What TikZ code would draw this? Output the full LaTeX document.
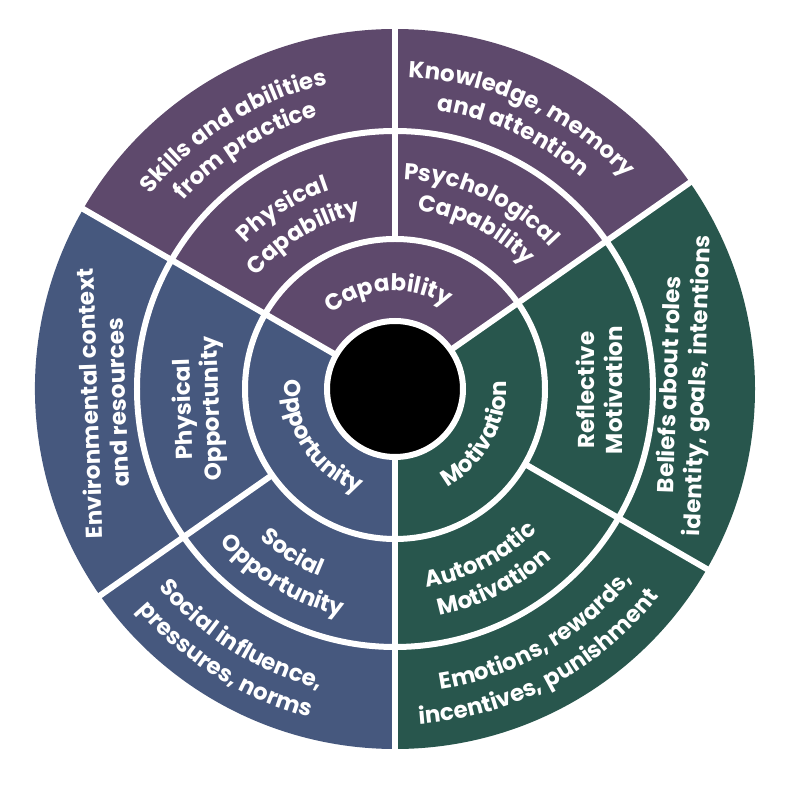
\documentclass[tikz,border=0pt]{standalone}
\usepackage{fontspec}
\setmainfont{Poppins}
\usetikzlibrary{decorations.text}
\definecolor{capcol}{HTML}{5E496C}
\definecolor{oppcol}{HTML}{46587E}
\definecolor{motcol}{HTML}{28564D}
\newcommand{\ringfont}{\bfseries\fontsize{23}{28}\selectfont}
% curved labels: centre angle, baseline radius, text
\newcommand{\cwlabel}[3]{\path[decorate, decoration={text along path, text align=center, text color=white, text={|\ringfont|#3}}] (#1+50:#2) arc[start angle=#1+50, end angle=#1-50, radius=#2];}
\newcommand{\ccwlabel}[3]{\path[decorate, decoration={text along path, text align=center, text color=white, text={|\ringfont|#3}}] (#1-50:#2) arc[start angle=#1-50, end angle=#1+50, radius=#2];}

\begin{document}
\begin{tikzpicture}[x=1pt, y=1pt]
  \tikzset{gap/.style={white, line width=6pt},
    lbl/.style={text=white, font=\ringfont, align=center, inner sep=0pt}}
  \useasboundingbox (-395,-402) rectangle (396,389);
  \fill[white] (-395,-402) rectangle (396,389);
  % the three sectors
  \fill[capcol] (0,0) -- (35:360) arc[start angle=35, end angle=150, radius=360] -- cycle;
  \fill[oppcol] (0,0) -- (150:360) arc[start angle=150, end angle=270, radius=360] -- cycle;
  \fill[motcol] (0,0) -- (270:360) arc[start angle=270, end angle=395, radius=360] -- cycle;
  % ring borders and spokes
  \draw[gap] (0,0) circle[radius=150];
  \draw[gap] (0,0) circle[radius=258];
  \foreach \a in {35,150,270} \draw[gap] (\a:65) -- (\a:362);
  \foreach \a in {90,215,330} \draw[gap] (\a:150) -- (\a:362);
  % hub
  \draw[gap, fill=black] (0,0) circle[radius=68];
  % inner ring
  \cwlabel{94}{98}{Capability}
  \ccwlabel{213}{110}{Opportunity}
  \ccwlabel{-29}{111}{Motivation}
  % middle ring
  \cwlabel{122}{209}{Physical}
  \cwlabel{121}{178}{Capability}
  \cwlabel{65}{210}{Psychological}
  \cwlabel{63}{180}{Capability}
  \node[lbl, rotate=92] (physopp) at (-196,-20) {Physical\\Opportunity};
  \ccwlabel{238}{202}{Social}
  \ccwlabel{239}{233}{Opportunity}
  \ccwlabel{-63}{201}{Automatic}
  \ccwlabel{-63}{231}{Motivation}
  \node[lbl, rotate=90] (reflmot) at (204,-1) {Reflective\\Motivation};
  % outer ring
  \cwlabel{122}{312}{Skills and abilities}
  \cwlabel{122}{283}{from practice}
  \cwlabel{65}{312}{Knowledge, memory}
  \cwlabel{65}{282}{and attention}
  \node[lbl, rotate=92] (envctx) at (-292,-14) {Environmental context\\and resources};
  \ccwlabel{238}{309}{Social influence,}
  \ccwlabel{238}{339}{pressures, norms}
  \ccwlabel{-60}{304}{Emotions, rewards,}
  \ccwlabel{-62}{336}{incentives, punishment}
  \node[lbl, rotate=88] (beliefs) at (290,4) {Beliefs about roles\\identity, goals, intentions};
\end{tikzpicture}
\end{document}
